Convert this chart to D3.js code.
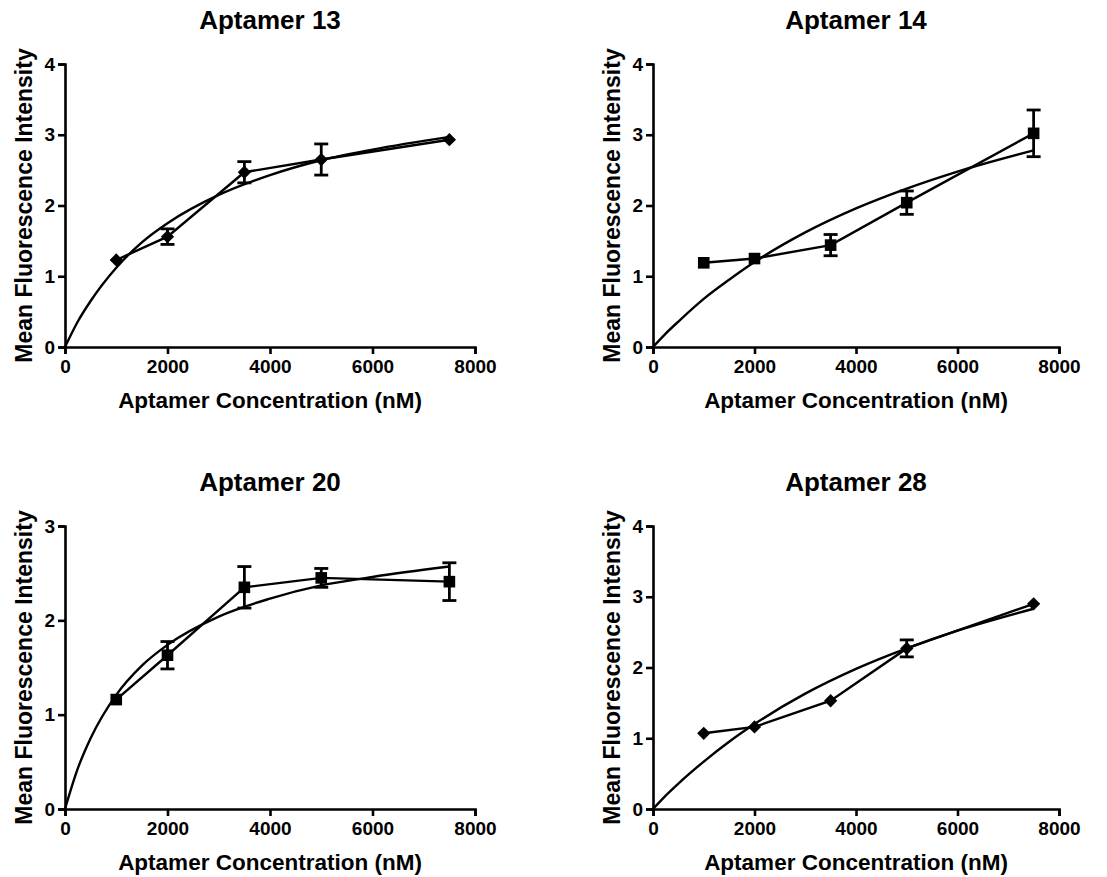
<!DOCTYPE html>
<html>
<head>
<meta charset="utf-8">
<script src="https://cdn.jsdelivr.net/npm/d3@7"></script>
<style>
  body { margin: 0; background: #fff; }
  svg text { font-family: "Liberation Sans", Arial, sans-serif; font-weight: bold; fill: #000; }
</style>
</head>
<body>
<svg id="chart" width="1107" height="877"></svg>
<script>
// measured concentrations (nM)
const conc = [1000, 2000, 3500, 5000, 7500];
// points
const fitX = [0, 250, 500, 1000, 1500, 2000, 3000, 4000, 5000, 6000, 7500];

const titles = ["Aptamer 13", "Aptamer 14", "Aptamer 20", "Aptamer 28"];
const markers = ["diamond", "square", "square", "diamond"];
const yMax = [4, 4, 3, 4];

const mean13 = [1.23, 1.56, 2.47, 2.65, 2.93];
const err13 = [0, 0.11, 0.15, 0.22, 0];
const fit13 = [0, 0.36, 0.65, 1.12, 1.48, 1.75, 2.15, 2.43, 2.64, 2.79, 2.97];

const mean14 = [1.19, 1.25, 1.44, 2.04, 3.02];
const err14 = [0, 0, 0.15, 0.165, 0.33];
const fit14 = [0, 0.19, 0.36, 0.68, 0.95, 1.2, 1.62, 1.96, 2.24, 2.48, 2.78];

const mean20 = [1.16, 1.63, 2.35, 2.45, 2.41];
const err20 = [0, 0.145, 0.22, 0.1, 0.2];
const fit20 = [0, 0.43, 0.75, 1.21, 1.52, 1.74, 2.04, 2.23, 2.37, 2.46, 2.57];

const mean28 = [1.07, 1.16, 1.53, 2.27, 2.9];
const err28 = [0, 0, 0, 0.12, 0];
const fit28 = [0, 0.19, 0.36, 0.67, 0.95, 1.2, 1.63, 1.98, 2.27, 2.52, 2.83];

const means = [mean13, mean14, mean20, mean28];
const errs = [err13, err14, err20, err28];
const fits = [fit13, fit14, fit20, fit28];

const xTicks = [0, 2000, 4000, 6000, 8000];

// panel frames: left/right of x axis, top/bottom of y axis
const frames = [
  { l: 65, r: 475, t: 64, b: 347 },
  { l: 653, r: 1059, t: 64, b: 347 },
  { l: 65, r: 475, t: 526, b: 809 },
  { l: 653, r: 1059, t: 526, b: 809 }
];

const svg = d3.select("#chart");

titles.forEach((title, i) => {
  const f = frames[i];
  const x = d3.scaleLinear().domain([0, 8000]).range([f.l, f.r]);
  const y = d3.scaleLinear().domain([0, yMax[i]]).range([f.b, f.t]);
  const g = svg.append("g");

  // axes
  const xAxis = g.append("g")
    .attr("transform", `translate(0,${f.b})`)
    .call(d3.axisBottom(x).tickValues(xTicks).tickFormat(d3.format("d")).tickSizeOuter(0).tickSize(7).tickPadding(4));
  const yAxis = g.append("g")
    .attr("transform", `translate(${f.l},0)`)
    .call(d3.axisLeft(y).ticks(yMax[i]).tickFormat(d3.format("d")).tickSizeOuter(0).tickSize(7).tickPadding(3));
  [xAxis, yAxis].forEach(a => {
    a.select(".domain").attr("stroke", "#000").attr("stroke-width", 2.6);
    a.selectAll(".tick line").attr("stroke", "#000").attr("stroke-width", 2.6);
    a.selectAll(".tick text").style("font-size", "19px");
  });
  xAxis.selectAll(".tick text").attr("dy", "0.8em");

  // titles
  g.append("text")
    .attr("x", (f.l + f.r) / 2).attr("y", f.b - 318)
    .attr("text-anchor", "middle").style("font-size", "26px")
    .text(title);
  g.append("text")
    .attr("x", (f.l + f.r) / 2).attr("y", f.b + 61)
    .attr("text-anchor", "middle").style("font-size", "22.5px")
    .text("Aptamer Concentration (nM)");
  g.append("text")
    .attr("transform", `translate(${f.l - 33},${(f.t + f.b) / 2}) rotate(-90)`)
    .attr("text-anchor", "middle").style("font-size", "23px")
    .text("Mean Fluorescence Intensity");

  // fitted curve
  const fitPts = fitX.map((v, k) => [v, fits[i][k]]);
  g.append("path")
    .datum(fitPts)
    .attr("fill", "none").attr("stroke", "#000").attr("stroke-width", 2.4)
    .attr("d", d3.line().x(d => x(d[0])).y(d => y(d[1])).curve(d3.curveMonotoneX));

  // connecting line
  const pts = conc.map((c, k) => ({ c, m: means[i][k], e: errs[i][k] }));
  g.append("path")
    .datum(pts)
    .attr("fill", "none").attr("stroke", "#000").attr("stroke-width", 2.4)
    .attr("d", d3.line().x(d => x(d.c)).y(d => y(d.m)));

  // error bars
  const eb = g.append("g").attr("stroke", "#000").attr("stroke-width", 2.8);
  pts.filter(d => d.e > 0).forEach(d => {
    const cx = x(d.c);
    eb.append("line").attr("x1", cx).attr("x2", cx).attr("y1", y(d.m - d.e)).attr("y2", y(d.m + d.e));
    [d.m - d.e, d.m + d.e].forEach(v => {
      eb.append("line").attr("x1", cx - 7).attr("x2", cx + 7).attr("y1", y(v)).attr("y2", y(v));
    });
  });

  // markers
  const sym = markers[i] === "square"
    ? d3.symbol().type(d3.symbolSquare).size(135)
    : d3.symbol().type(d3.symbolSquare).size(88);
  g.selectAll(".pt").data(pts).join("path")
    .attr("transform", d => `translate(${x(d.c)},${y(d.m)})` + (markers[i] === "diamond" ? " rotate(45)" : ""))
    .attr("d", sym)
    .attr("fill", "#000");
});
</script>
</body>
</html>
